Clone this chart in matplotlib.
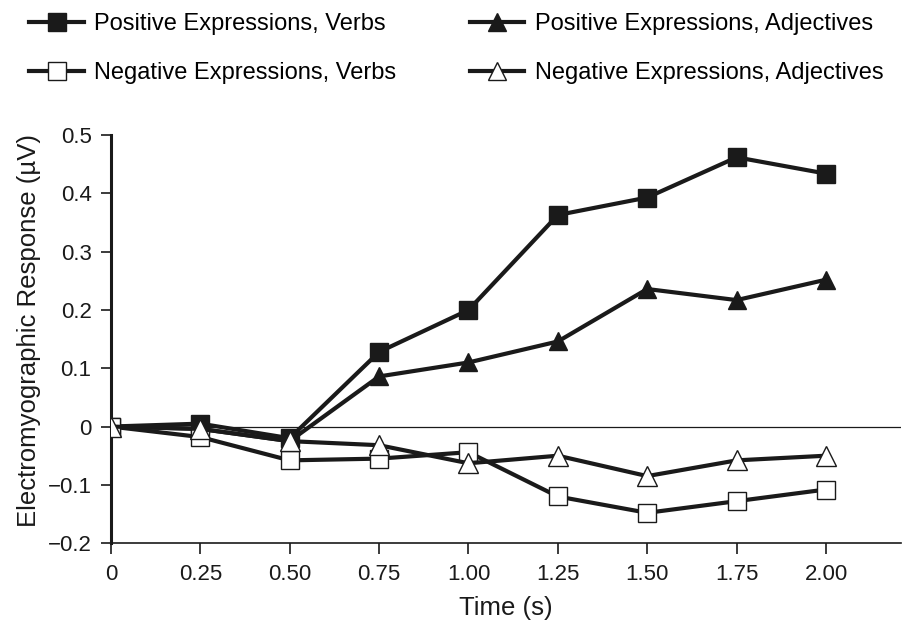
import numpy as np
import matplotlib
matplotlib.use('Agg')
import matplotlib.pyplot as plt

# data
time = [0, 0.25, 0.50, 0.75, 1.00, 1.25, 1.50, 1.75, 2.00]
pos_verbs = [0, 0.005, -0.02, 0.128, 0.2, 0.363, 0.393, 0.462, 0.434]
pos_adj = [0, -0.004, -0.025, 0.086, 0.11, 0.146, 0.236, 0.217, 0.252]
neg_verbs = [0, -0.018, -0.058, -0.055, -0.044, -0.12, -0.148, -0.128, -0.108]
neg_adj = [0, -0.004, -0.025, -0.032, -0.063, -0.05, -0.085, -0.058, -0.05]

xticks = [0, 0.25, 0.50, 0.75, 1.00, 1.25, 1.50, 1.75, 2.00]
xticklabels = ['0', '0.25', '0.50', '0.75', '1.00', '1.25', '1.50', '1.75', '2.00']
yticks = [-0.2, -0.1, 0, 0.1, 0.2, 0.3, 0.4, 0.5]
yticklabels = ['\u22120.2', '\u22120.1', '0', '0.1', '0.2', '0.3', '0.4', '0.5']

plt.rcParams['font.family'] = ['Liberation Sans', 'DejaVu Sans']

fig = plt.figure(figsize=(9.02, 6.2), dpi=100)
ax = fig.add_axes([0.123, 0.124, 0.876, 0.658])

col = '#1a1a1a'
lw = 3.0
ms = 13

ax.axhline(0, color=col, lw=0.9, zorder=1)

l1, = ax.plot(time, pos_verbs, '-s', color=col, lw=lw, ms=ms,
              mfc=col, mec=col, label='Positive Expressions, Verbs', zorder=3)
l3, = ax.plot(time, pos_adj, '-^', color=col, lw=lw, ms=ms,
              mfc=col, mec=col, label='Positive Expressions, Adjectives', zorder=3)
l2, = ax.plot(time, neg_verbs, '-s', color=col, lw=lw, ms=ms,
              mfc='white', mec=col, mew=1.0, label='Negative Expressions, Verbs', zorder=4)
l4, = ax.plot(time, neg_adj, '-^', color=col, lw=lw, ms=ms + 1,
              mfc='white', mec=col, mew=1.0, label='Negative Expressions, Adjectives', zorder=4)

ax.set_xlim(0, 2.21)
ax.set_ylim(-0.2, 0.5)
ax.set_xticks(xticks)
ax.set_xticklabels(xticklabels)
ax.set_yticks(yticks)
ax.set_yticklabels(yticklabels)
ax.tick_params(labelsize=16, direction='out', width=1.2, colors=col)
ax.tick_params(axis='x', length=8, pad=7)
ax.tick_params(axis='y', length=7, pad=7)

for s in ['top', 'right']:
    ax.spines[s].set_visible(False)
ax.spines['left'].set_linewidth(2.2)
ax.spines['bottom'].set_linewidth(1.2)
ax.spines['left'].set_color(col)
ax.spines['bottom'].set_color(col)

ax.set_xlabel('Time (s)', fontsize=18.5, color=col, labelpad=8)
ax.set_ylabel('Electromyographic Response (\u00b5V)', fontsize=18.5, color=col, labelpad=4.5)
ax.yaxis.label.set_y(0.52)

fig.legend(handles=[l1, l2, l3, l4], loc='upper left', bbox_to_anchor=(0.009, 1.013),
           ncol=2, frameon=False, fontsize=17, handlelength=2.3, markerscale=0.95,
           columnspacing=3.1, labelspacing=1.13, handletextpad=0.45)

fig.savefig('out.png', dpi=100)
